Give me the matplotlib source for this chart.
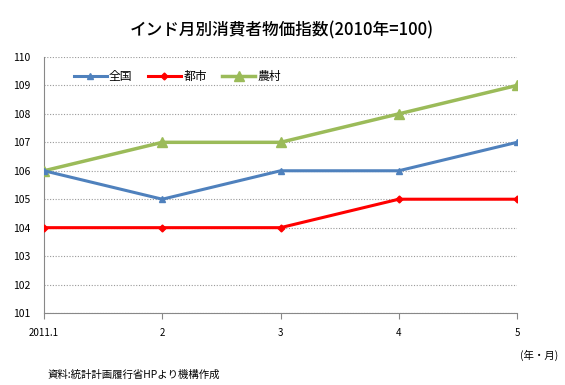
import matplotlib
matplotlib.use("Agg")
import matplotlib.pyplot as plt

plt.rcParams['font.family'] = ['Noto Sans CJK JP', 'DejaVu Sans']

months = ["2011.1", "2", "3", "4", "5"]
national = [106, 105, 106, 106, 107]
urban = [104, 104, 104, 105, 105]
rural = [106, 107, 107, 108, 109]
yticks = list(range(101, 111))

fig = plt.figure(figsize=(5.65, 3.85), dpi=100)
ax = fig.add_axes([0.078, 0.187, 0.837, 0.665])

x = list(range(len(months)))
ax.plot(x, rural, color="#9BBB59", lw=2.5, marker="^", ms=7, label="農村", zorder=3)
ax.plot(x, national, color="#4F81BD", lw=2.2, marker="^", ms=5, label="全国", zorder=4)
ax.plot(x, urban, color="#FF0000", lw=2.2, marker="D", ms=3.5, label="都市", zorder=5)

ax.set_xlim(0, 4)
ax.set_ylim(101, 110)
ax.set_yticks(yticks)
ax.set_xticks(x)
ax.set_xticklabels(months, fontsize=7)
ax.tick_params(axis='y', length=0, labelsize=7.5, pad=10)
ax.tick_params(axis='x', length=4, color="#888888", labelsize=7, pad=7, direction='out')
ax.grid(axis='y', linestyle=(0, (1, 1.5)), color="#999999", lw=0.8)
for s in ["top", "right"]:
    ax.spines[s].set_visible(False)
ax.spines["left"].set_color("#888888")
ax.spines["bottom"].set_color("#888888")

h, l = ax.get_legend_handles_labels()
order = [1, 2, 0]
ax.legend([h[i] for i in order], [l[i] for i in order], loc="upper left",
          bbox_to_anchor=(0.04, 0.99), ncol=3, frameon=False, fontsize=8.5,
          handlelength=2.8, columnspacing=1.3, handletextpad=0.2)

fig.text(0.498, 0.92, "インド月別消費者物価指数(2010年=100)", ha="center", va="center",
         fontsize=12, fontweight="medium")
fig.text(0.955, 0.077, "(年・月)", ha="center", va="center", fontsize=7.5)
fig.text(0.085, 0.027, "資料:統計計画履行省HPより機構作成", ha="left", va="center", fontsize=7.5)

fig.savefig("out.png", dpi=100)
